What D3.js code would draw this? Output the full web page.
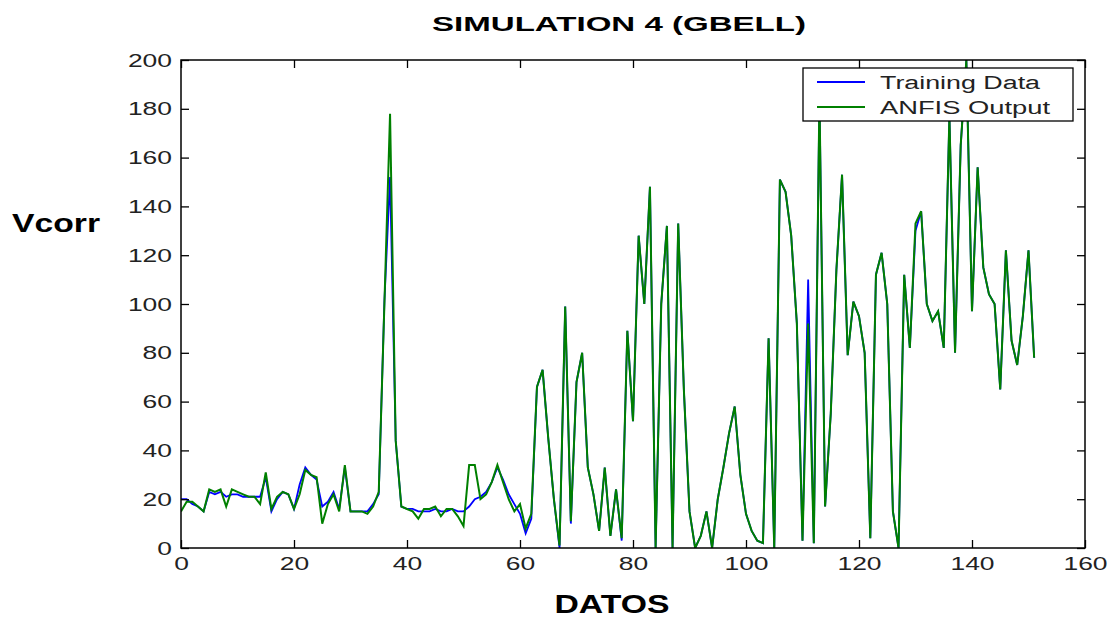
<!DOCTYPE html>
<html>
<head>
<meta charset="utf-8">
<script src="https://cdn.jsdelivr.net/npm/d3@7/dist/d3.min.js"></script>
<style>
    body { margin: 0; background: #ffffff; }
    svg { font-family: Arial, "Liberation Sans", sans-serif; }
</style>
</head>
<body>
<div id="chartDiv"></div>
<script>
(function () {

    // Colors
    var trainColor = "#0000ff";
    var anfisColor = "#008000";

    // Data (DATOS index 0..151)
    var datos = d3.range(0, 152);

    var trainingData = [
        20, 20, 18, 17, 15, 23, 22, 23, 21, 22,
        22, 21, 21, 21, 21, 29, 15, 20, 23, 22,
        16, 26, 33, 30, 28, 17, 19, 23, 16, 33,
        15, 15, 15, 15, 18, 22, 101, 152, 44, 17,
        16, 16, 15, 15, 15, 16, 15, 15, 16, 15,
        15, 17, 20, 21, 23, 27, 33, 28, 22, 18,
        14, 6, 12, 66, 73, 45, 20, 0, 99, 10,
        68, 80, 33, 22, 7, 33, 5, 24, 3, 89,
        52, 128, 100, 148, 0, 100, 132, 0, 133, 65,
        15, 0, 5, 15, 0, 20, 33, 47, 58, 30,
        14, 7, 3, 2, 86, 0, 151, 146, 128, 92,
        3, 110, 2, 185, 17, 55, 114, 153, 79, 101,
        95, 80, 4, 112, 121, 100, 15, 0, 112, 82,
        130, 138, 100, 93, 97, 82, 177, 80, 165, 200,
        97, 156, 115, 104, 100, 65, 122, 85, 75, 95,
        122, 78
    ];

    var anfisOutput = [
        15, 19, 19, 17, 15, 24, 23, 24, 17, 24,
        23, 22, 21, 21, 18, 31, 16, 21, 23, 22,
        16, 22, 32, 30, 29, 10, 18, 22, 15, 34,
        15, 15, 15, 14, 17, 23, 100, 178, 44, 17,
        16, 15, 12, 16, 16, 17, 13, 16, 16, 13,
        9, 34, 34, 20, 22, 27, 34, 27, 20, 15,
        18, 8, 14, 66, 73, 45, 20, 1, 99, 11,
        68, 80, 33, 22, 7, 33, 5, 24, 4, 89,
        52, 128, 100, 148, 0, 100, 132, 0, 133, 65,
        15, 0, 5, 15, 0, 20, 33, 47, 58, 30,
        14, 7, 3, 2, 86, 0, 151, 146, 128, 92,
        3, 92, 2, 185, 17, 55, 114, 153, 79, 101,
        95, 80, 4, 112, 121, 100, 15, 0, 112, 82,
        133, 138, 100, 93, 97, 82, 177, 80, 165, 200,
        97, 156, 115, 104, 100, 65, 122, 85, 75, 95,
        122, 78
    ];

    var xTicks = [0, 20, 40, 60, 80, 100, 120, 140, 160];
    var yTicks = [0, 20, 40, 60, 80, 100, 120, 140, 160, 180, 200];
    var legendLabels = ["Training Data", "ANFIS Output"];
    var legendWidths = [160, 170];

    // Define height, width, margins for svg
    var margin = {top: 60, left: 181},
        width = 1085 - margin.left,
        height = 548 - margin.top;

    var svgRoot = d3.select("#chartDiv")
        .append("svg")
        .attr("width", 1118)
        .attr("height", 620);

    var svg = svgRoot.append("g")
        .attr("transform", "translate(" + margin.left + "," + margin.top + ")");

    // Scales
    var x = d3.scaleLinear().domain([0, 160]).range([0, width]);
    var y = d3.scaleLinear().domain([0, 200]).range([height, 0]);

    // Clip lines to the plot box
    svg.append("clipPath")
        .attr("id", "plotClip")
        .append("rect")
        .attr("width", width)
        .attr("height", height);

    var lineGen = function (values) {
        return d3.line()
            .x(function (d) { return x(d); })
            .y(function (d, i) { return y(values[i]); })(datos);
    };

    // Training data (blue) underneath
    svg.append("path")
        .attr("clip-path", "url(#plotClip)")
        .attr("fill", "none")
        .attr("stroke", trainColor)
        .attr("stroke-width", 1.8)
        .attr("d", lineGen(trainingData));

    // ANFIS output (green) on top
    svg.append("path")
        .attr("clip-path", "url(#plotClip)")
        .attr("fill", "none")
        .attr("stroke", anfisColor)
        .attr("stroke-width", 2)
        .attr("d", lineGen(anfisOutput));

    // Axes (ticks pointing inward, box on); the reference text is wide, so stretch it
    var tickFont = function (g) {
        g.select(".domain").remove();
        g.selectAll("line").attr("stroke", "#000").attr("stroke-width", 1.3);
        g.selectAll("text")
            .style("font-size", "19px")
            .attr("fill", "#222")
            .each(function () {
                var t = d3.select(this).text();
                if (t.length) {
                    d3.select(this)
                        .attr("textLength", t.length * 14.7)
                        .attr("lengthAdjust", "spacingAndGlyphs");
                }
            });
    };

    svg.append("g")
        .attr("transform", "translate(0," + height + ")")
        .call(d3.axisBottom(x).tickValues(xTicks).tickSizeInner(-8).tickSizeOuter(0).tickPadding(9))
        .call(tickFont);

    svg.append("g")
        .call(d3.axisTop(x).tickValues(xTicks).tickSizeInner(-8).tickSizeOuter(0).tickFormat(""))
        .call(tickFont);

    svg.append("g")
        .call(d3.axisLeft(y).tickValues(yTicks).tickSizeInner(-8).tickSizeOuter(0).tickPadding(9))
        .call(tickFont);

    svg.append("g")
        .attr("transform", "translate(" + width + ",0)")
        .call(d3.axisRight(y).tickValues(yTicks).tickSizeInner(-8).tickSizeOuter(0).tickFormat(""))
        .call(tickFont);

    // Box
    svg.append("rect")
        .attr("width", width)
        .attr("height", height)
        .attr("fill", "none")
        .attr("stroke", "#000")
        .attr("stroke-width", 1.5);

    // Legend
    var legend = svgRoot.append("g")
        .attr("transform", "translate(803,68)");

    legend.append("rect")
        .attr("width", 270)
        .attr("height", 53)
        .attr("fill", "#fff")
        .attr("stroke", "#000")
        .attr("stroke-width", 1.3);

    var legendItem = legend.selectAll(".legend")
        .data(legendLabels)
        .enter().append("g")
        .attr("class", "legend")
        .attr("transform", function (d, i) { return "translate(0," + (14 + i * 25) + ")"; });

    legendItem.append("line")
        .attr("x1", 14)
        .attr("x2", 62)
        .attr("stroke", function (d, i) { return i === 0 ? trainColor : anfisColor; })
        .attr("stroke-width", 1.8);

    legendItem.append("text")
        .attr("x", 77)
        .attr("y", 7)
        .style("font-size", "18px")
        .attr("fill", "#222")
        .attr("textLength", function (d, i) { return legendWidths[i]; })
        .attr("lengthAdjust", "spacingAndGlyphs")
        .text(function (d) { return d; });

    // Title and axis labels
    svgRoot.append("text")
        .attr("x", 619)
        .attr("y", 31)
        .attr("text-anchor", "middle")
        .style("font-size", "21px")
        .style("font-weight", "bold")
        .attr("textLength", 374)
        .attr("lengthAdjust", "spacingAndGlyphs")
        .text("SIMULATION 4 (GBELL)");

    svgRoot.append("text")
        .attr("x", 12)
        .attr("y", 232)
        .style("font-size", "26px")
        .style("font-weight", "bold")
        .attr("textLength", 88)
        .attr("lengthAdjust", "spacingAndGlyphs")
        .text("Vcorr");

    svgRoot.append("text")
        .attr("x", 612)
        .attr("y", 613)
        .attr("text-anchor", "middle")
        .style("font-size", "26px")
        .style("font-weight", "bold")
        .attr("textLength", 115)
        .attr("lengthAdjust", "spacingAndGlyphs")
        .text("DATOS");

})();
</script>
</body>
</html>
